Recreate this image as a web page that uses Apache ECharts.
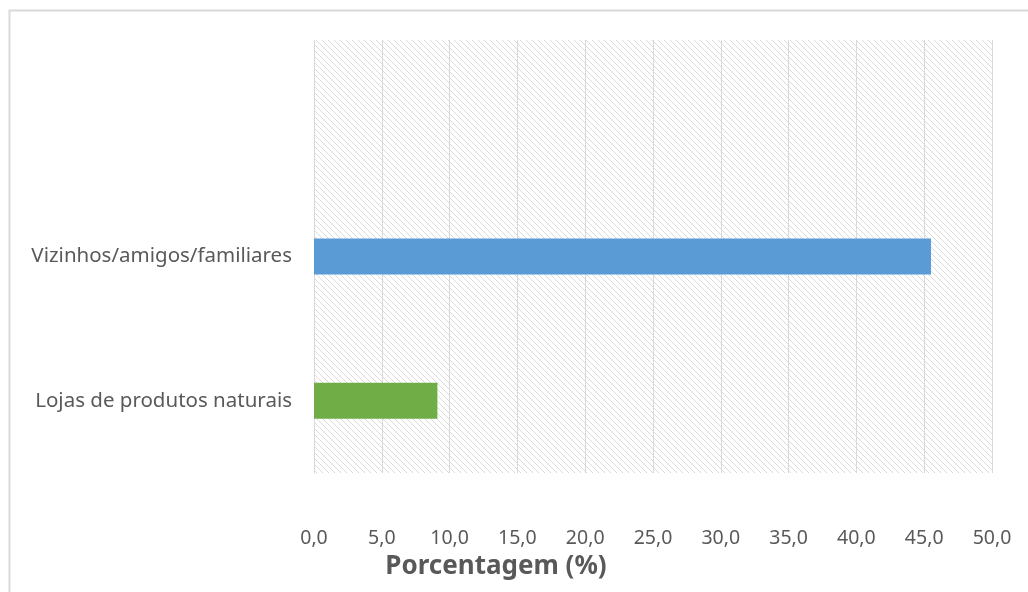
<!DOCTYPE html>
<html><head><meta charset="utf-8">
<script src="https://cdn.jsdelivr.net/npm/echarts@6/dist/echarts.min.js"></script>
<style>html,body{margin:0;padding:0;background:#fff}#c{width:1028px;height:592px}</style>
</head><body><div id="c"></div>
<script>
const categories = ['Lojas de produtos naturais', 'Vizinhos/amigos/familiares', ''];
const values = [9.1, 45.5, null];
const barColors = ['#70ad47', '#5b9bd5', '#5b9bd5'];
const xTicks = [0, 5, 10, 15, 20, 25, 30, 35, 40, 45, 50];

function makePattern() {
  const s = 6;
  const c = document.createElement('canvas');
  c.width = s; c.height = s;
  const g = c.getContext('2d');
  g.fillStyle = '#ffffff';
  g.fillRect(0, 0, s, s);
  g.fillStyle = '#dadada';
  for (let i = 0; i < s; i++) { g.fillRect(i, i, 1, 1); }
  return c;
}

const chart = echarts.init(document.getElementById('c'), null, {renderer: 'canvas'});
chart.setOption({
  animation: false,
  title: {
    text: 'Porcentagem (%)', left: 491, top: 549, textAlign: 'center',
    textStyle: {fontFamily: 'Noto Sans', fontSize: 26, fontWeight: 'bold', color: '#595959'}
  },
  graphic: [{
    type: 'rect', shape: {x: 9.5, y: 10.5, width: 1030, height: 600},
    style: {fill: 'none', stroke: '#d9d9d9', lineWidth: 2}, silent: true
  }],
  grid: {
    left: 314, right: 36, top: 40, bottom: 119, show: true,
    backgroundColor: {image: makePattern(), repeat: 'repeat'},
    borderWidth: 0
  },
  xAxis: {
    type: 'value', min: xTicks[0], max: xTicks[xTicks.length - 1], interval: 5,
    axisLine: {show: false}, axisTick: {show: false},
    splitLine: {show: true, lineStyle: {color: '#d9d9d9', width: 1}},
    axisLabel: {
      margin: 55, color: '#595959', fontFamily: 'Noto Sans', fontSize: 19.5,
      formatter: v => v.toFixed(1).replace('.', ',')
    }
  },
  yAxis: {
    type: 'category', data: categories,
    axisLine: {show: true, lineStyle: {color: '#d9d9d9'}}, axisTick: {show: false},
    axisLabel: {margin: 22, color: '#595959', fontFamily: 'Noto Sans', fontSize: 20.5}
  },
  series: [{
    type: 'bar', barWidth: 36,
    data: values.map((v, i) => ({value: v, itemStyle: {color: barColors[i]}}))
  }]
});
</script></body></html>
